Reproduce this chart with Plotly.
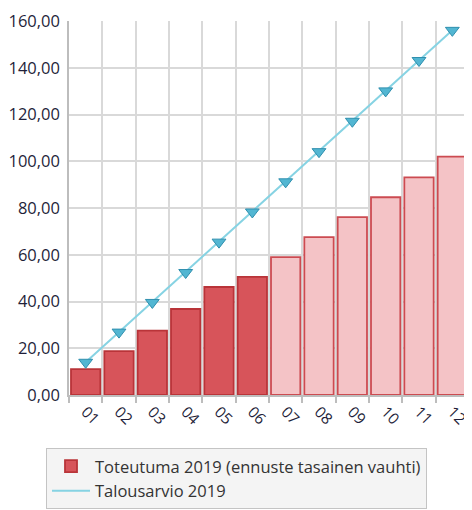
import plotly.graph_objects as go

months = ["01", "02", "03", "04", "05", "06", "07", "08", "09", "10", "11", "12"]
toteutuma = [11.1, 18.8, 27.5, 36.8, 46.2, 50.5, 59.0, 67.5, 76.1, 84.6, 93.1, 102.0]
talousarvio = [14.0, 26.9, 39.6, 52.4, 65.4, 78.3, 91.2, 104.1, 117.1, 130.1, 143.1, 156.0]
realized_count = 6  # months 01-06 realized, rest forecast

y_ticks = [0, 20, 40, 60, 80, 100, 120, 140, 160]

fill_colors = ["#d7545a" if i < realized_count else "#f4c3c6" for i in range(len(months))]
line_colors = ["#b93439" if i < realized_count else "#cc4b51" for i in range(len(months))]

fig = go.Figure()
fig.add_trace(go.Bar(
    x=months, y=toteutuma,
    name="Toteutuma 2019 (ennuste tasainen vauhti)",
    marker=dict(color=fill_colors, line=dict(color=line_colors, width=1.8)),
))
fig.add_trace(go.Scatter(
    x=months, y=talousarvio,
    name="Talousarvio 2019",
    mode="lines+markers",
    showlegend=False,
    legendgroup="budget",
    line=dict(color="#86d3e3", width=2),
    marker=dict(symbol="triangle-down", size=12, color="#52b6d2",
                line=dict(color="#2f8fae", width=1)),
))
# legend entry (line only, as in the reference legend)
fig.add_trace(go.Scatter(
    x=[None], y=[None],
    name="Talousarvio 2019",
    mode="lines",
    legendgroup="budget",
    line=dict(color="#86d3e3", width=2),
))

font_family = "Open Sans, Noto Sans, DejaVu Sans, sans-serif"

# the page body adds an 8px offset; margins compensate for it
fig.update_layout(
    width=472, height=510,
    margin=dict(l=61, r=11, t=13, b=123, autoexpand=False),
    paper_bgcolor="white", plot_bgcolor="white",
    separators=", ",
    bargap=0.12,
    font=dict(family=font_family, size=14, color="#1f1f3a"),
    showlegend=True,
    legend=dict(
        x=-0.0575, y=-0.1417, xanchor="left", yanchor="top",
        orientation="v",
        bgcolor="#f4f4f4", bordercolor="#c4c4c4", borderwidth=1,
        font=dict(family=font_family, size=16.5, color="#333333"),
        tracegroupgap=0, itemwidth=38,
    ),
    xaxis=dict(
        type="category",
        automargin=False,
        tickson="boundaries",
        showgrid=True, gridcolor="#d9d9d9", gridwidth=1.5,
        showline=True, linecolor="#bdbdbd", linewidth=1.5, mirror=False,
        ticks="outside", ticklen=6, tickcolor="#bdbdbd", tickwidth=1.5,
        tickangle=45,
        tickfont=dict(size=15.5, color="#1f1f3a"),
        range=[-0.5, 11.5],
    ),
    yaxis=dict(
        automargin=False,
        range=[0, 160],
        tickvals=y_ticks,
        tickformat=".2f",
        showgrid=True, gridcolor="#d9d9d9", gridwidth=1.5,
        showline=True, linecolor="#bdbdbd", linewidth=1.5,
        ticks="outside", ticklen=4, tickcolor="rgba(0,0,0,0)",
        zeroline=False,
        tickfont=dict(size=16.5, color="#1f1f3a"),
    ),
)

fig.write_html("out.html")
